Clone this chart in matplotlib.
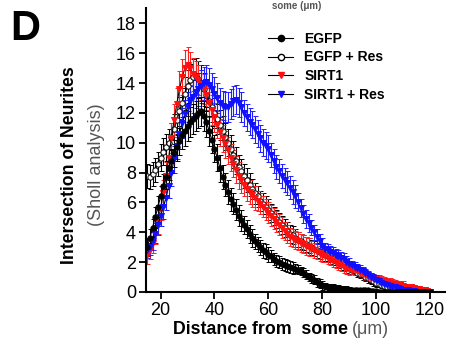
import matplotlib
matplotlib.use("Agg")
import matplotlib.pyplot as plt
from matplotlib.lines import Line2D
import numpy as np

plt.rcParams['font.family'] = ['Liberation Sans', 'DejaVu Sans']

distance = list(range(15, 121))

egfp = [3.0, 3.6, 4.3, 5.0, 5.7, 6.4, 7.1, 7.7, 8.3, 8.8, 9.3, 9.7, 10.1, 10.5, 10.8, 11.1, 11.4, 11.6, 11.8, 12.0, 12.1,
        11.8, 11.4, 10.8, 10.2, 9.6, 9.0, 8.3, 7.7, 7.2, 6.7, 6.2, 5.9, 5.5, 5.1, 4.8, 4.5, 4.2, 3.9, 3.6, 3.4,
        3.2, 3.0, 2.8, 2.7, 2.5, 2.4, 2.2, 2.1, 2.0, 1.9, 1.8, 1.75, 1.7, 1.6, 1.55, 1.5, 1.4, 1.3, 1.15, 1.0,
        0.9, 0.8, 0.65, 0.55, 0.45, 0.4, 0.35, 0.3, 0.3, 0.25, 0.25, 0.2, 0.2, 0.2, 0.15, 0.15, 0.15, 0.1, 0.1,
        0.1, 0.1, 0.1, 0.05, 0.05, 0.05, 0.0, 0.0, 0.0, 0.0, 0.0, 0.0, 0.0, 0.0, 0.0, 0.0, 0.0, 0.0, 0.0, 0.0,
        0.0, 0.0, 0.0, 0.0, 0.0, 0.0]
egfp_sem = ([0.6, 0.6, 0.6, 0.7, 0.7, 0.7, 0.8, 0.8, 0.8, 0.8, 0.9, 0.9, 0.9, 0.9, 1.0, 1.0, 1.0, 1.0, 1.0, 1.0, 1.0]
            + [1.0, 1.0, 1.0, 0.9, 0.9, 0.9, 0.9, 0.8, 0.8, 0.8, 0.8, 0.7, 0.7, 0.7, 0.7, 0.6, 0.6, 0.6, 0.6, 0.5]
            + [0.5] * 5 + [0.4] * 9 + [0.3] * 11 + [0.2] * 10 + [0.1] * 10 + [0.05] * 20)

egfp_res = [7.8, 7.7, 7.9, 8.2, 8.6, 9.0, 9.4, 9.7, 10.0, 10.4, 10.9, 11.5, 12.1, 12.7, 13.3, 13.8, 14.2, 14.4, 14.5, 14.3, 14.0,
            13.6, 13.2, 12.8, 12.4, 12.0, 11.6, 11.2, 10.8, 10.4, 10.0, 9.6, 9.2, 8.8, 8.4, 8.1, 7.8, 7.5, 7.2, 6.9, 6.6,
            6.4, 6.1, 5.9, 5.7, 5.5, 5.3, 5.1, 4.9, 4.7, 4.5, 4.3, 4.1, 3.9, 3.8, 3.6, 3.5, 3.4, 3.3, 3.2, 3.1,
            3.0, 2.9, 2.8, 2.7, 2.6, 2.5, 2.4, 2.3, 2.2, 2.1, 2.0, 1.9, 1.8, 1.7, 1.6, 1.5, 1.4, 1.3, 1.2, 1.1,
            1.0, 0.9, 0.8, 0.7, 0.6, 0.5, 0.45, 0.4, 0.35, 0.3, 0.25, 0.2, 0.15, 0.1, 0.1, 0.05,
            0.0, 0.0, 0.0, 0.0, 0.0, 0.0, 0.0, 0.0, 0.0]
egfp_res_sem = ([0.8, 0.8, 0.8, 0.8, 0.8, 0.9, 0.9, 0.9, 0.9, 0.9, 1.0, 1.0, 1.0, 1.0, 1.1, 1.1, 1.1, 1.2, 1.2, 1.2, 1.2]
                + [1.1, 1.1, 1.1, 1.0, 1.0, 1.0, 1.0, 1.0, 0.9, 0.9, 0.9, 0.9, 0.9, 0.8, 0.8, 0.8, 0.8, 0.8, 0.7, 0.7]
                + [0.7] * 5 + [0.6] * 10 + [0.5] * 10 + [0.4] * 10 + [0.3] * 10 + [0.2] * 10 + [0.1] * 10)

sirt1 = [2.5, 2.8, 3.3, 3.9, 4.7, 5.6, 6.6, 7.8, 9.0, 10.3, 11.5, 12.6, 13.6, 14.4, 15.0, 15.2, 15.0, 14.6, 14.4, 14.2, 13.9,
         13.6, 13.2, 12.7, 12.2, 11.7, 11.2, 10.7, 10.3, 9.9, 9.5, 9.0, 8.6, 8.2, 7.8, 7.5, 7.2, 6.9, 6.7, 6.5, 6.3,
         6.1, 5.9, 5.7, 5.5, 5.3, 5.1, 4.9, 4.7, 4.5, 4.3, 4.1, 3.9, 3.7, 3.6, 3.5, 3.4, 3.3, 3.2, 3.1, 3.0,
         2.9, 2.8, 2.7, 2.6, 2.5, 2.4, 2.3, 2.2, 2.1, 2.0, 1.9, 1.8, 1.7, 1.6, 1.55, 1.5, 1.45, 1.4, 1.3, 1.2,
         1.1, 1.0, 0.95, 0.9, 0.85, 0.8, 0.75, 0.7, 0.65, 0.6, 0.55, 0.5, 0.45, 0.45, 0.4, 0.35, 0.3, 0.3, 0.25, 0.2,
         0.2, 0.15, 0.1, 0.05, 0.0]
sirt1_sem = ([0.6, 0.6, 0.7, 0.7, 0.8, 0.8, 0.9, 0.9, 1.0, 1.0, 1.1, 1.1, 1.2, 1.2, 1.2, 1.2, 1.1, 1.1, 1.1, 1.0, 1.0]
             + [1.0] * 5 + [0.9] * 10 + [0.8] * 5
             + [0.7] * 10 + [0.6] * 10 + [0.5] * 5 + [0.4] * 10 + [0.3] * 20 + [0.2] * 9 + [0.1])

sirt1_res = [2.8, 3.0, 3.4, 3.9, 4.5, 5.1, 5.7, 6.3, 7.1, 8.0, 8.9, 9.8, 10.6, 11.3, 11.9, 12.4, 12.8, 13.1, 13.4, 13.6, 13.8,
             14.0, 14.1, 13.9, 13.6, 13.3, 13.0, 12.7, 12.5, 12.4, 12.4, 12.6, 12.8, 12.9, 12.7, 12.4, 12.0, 11.7, 11.4, 11.2, 10.9,
             10.6, 10.3, 10.0, 9.8, 9.6, 9.2, 8.8, 8.4, 8.1, 7.8, 7.5, 7.3, 7.0, 6.7, 6.4, 6.0, 5.6, 5.2, 4.9, 4.6,
             4.3, 4.0, 3.7, 3.4, 3.1, 2.9, 2.8, 2.7, 2.6, 2.5, 2.4, 2.3, 2.2, 2.0, 1.9, 1.8, 1.7, 1.6, 1.5, 1.4,
             1.25, 1.1, 1.0, 0.9, 0.8, 0.7, 0.6, 0.5, 0.45, 0.4, 0.35, 0.3, 0.25, 0.2, 0.15, 0.1, 0.1, 0.05, 0.05,
             0.0, 0.0, 0.0, 0.0, 0.0, 0.0]
sirt1_res_sem = ([0.5, 0.5, 0.6, 0.6, 0.7, 0.7, 0.8, 0.8, 0.8, 0.9, 0.9, 0.9, 1.0, 1.0, 1.0, 1.0, 1.0, 1.1, 1.1, 1.1, 1.1]
                 + [1.1] * 5 + [1.0] * 10 + [0.9] * 5
                 + [0.9] * 5 + [0.8] * 10 + [0.6] * 5 + [0.5] * 5 + [0.4] * 10 + [0.3] * 10 + [0.2] * 10 + [0.1] * 10)

labels = ["EGFP", "EGFP + Res", "SIRT1", "SIRT1 + Res"]
x_ticks = [20, 40, 60, 80, 100, 120]
y_ticks = [0, 2, 4, 6, 8, 10, 12, 14, 16, 18]

fig = plt.figure(figsize=(4.5, 3.41), dpi=100)
ax = fig.add_axes([0.324, 0.144, 0.665, 0.833])

series = [
    (egfp_res, egfp_res_sem, 'o', 'white', 'black', 'black'),
    (sirt1, sirt1_sem, 'v', '#ff1010', '#ff1010', '#ff2020'),
    (sirt1_res, sirt1_res_sem, 'v', '#1010ff', '#1010ff', '#2020ff'),
    (egfp, egfp_sem, 'o', 'black', 'black', 'black'),
]
for vals, sem, mk, mfc, mec, ecol in series:
    ax.errorbar(distance, vals, yerr=sem, fmt='-', color='black', lw=0.8,
                marker=mk, ms=3.8, mfc=mfc, mec=mec, mew=0.7,
                ecolor=ecol, elinewidth=0.8, capsize=1.8, capthick=0.8)

ax.set_xlim(14.5, 125.6)
ax.set_ylim(0, 19.05)
ax.set_xticks(x_ticks)
ax.set_yticks(y_ticks)
for s in ['top', 'right']:
    ax.spines[s].set_visible(False)
for s in ['left', 'bottom']:
    ax.spines[s].set_linewidth(1.5)
ax.tick_params(direction='out', length=5, width=1.3, labelsize=13, pad=2)

ax.text(-0.255, 0.447, "Intersection of Neurites", transform=ax.transAxes, rotation=90,
        ha='center', va='center', fontsize=12.7, fontweight='bold')
ax.text(-0.165, 0.447, "(Sholl analysis)", transform=ax.transAxes, rotation=90,
        ha='center', va='center', fontsize=13, color='#555555')

xl1 = fig.text(0.384, 0.033, "Distance from  some", ha='left', va='center', fontsize=12.8, fontweight='bold')
fig.canvas.draw()
bb = xl1.get_window_extent(renderer=fig.canvas.get_renderer())
x_end = bb.x1 / fig.bbox.width
fig.text(x_end + 0.01, 0.033, "(\u03bcm)", ha='left', va='center', fontsize=12.8, color='#555555')

fig.text(0.022, 0.915, "D", fontsize=30, fontweight='bold', ha='left', va='center')
fig.text(0.66, 0.997, "some (\u03bcm)", fontsize=7, fontweight='bold', color='#555555', ha='center', va='top')

handles = [
    Line2D([], [], color='black', lw=0.8, marker='o', ms=4.5, mfc='black', mec='black'),
    Line2D([], [], color='black', lw=0.8, marker='o', ms=4.5, mfc='white', mec='black'),
    Line2D([], [], color='black', lw=0.8, marker='v', ms=5, mfc='#ff1010', mec='#ff1010'),
    Line2D([], [], color='black', lw=0.8, marker='v', ms=5, mfc='#1010ff', mec='#1010ff'),
]
leg = ax.legend(handles, labels, loc='upper left', bbox_to_anchor=(0.39, 0.935), frameon=False,
                prop={'weight': 'bold', 'size': 10}, handlelength=1.8, handletextpad=0.8,
                labelspacing=0.33, borderaxespad=0)

fig.savefig("out.png", dpi=100)
